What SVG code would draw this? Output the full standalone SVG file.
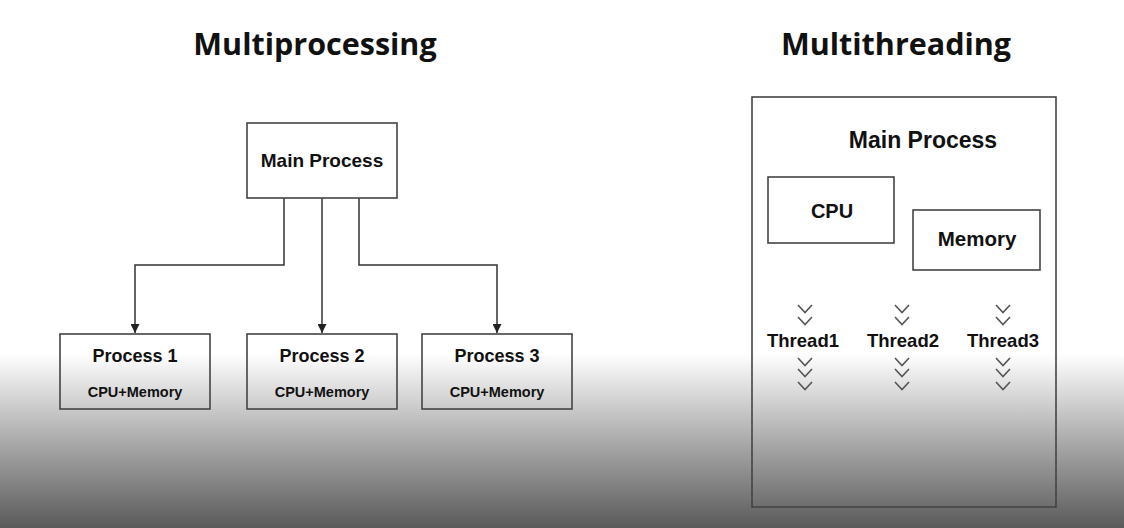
<svg xmlns="http://www.w3.org/2000/svg" width="1124" height="528" viewBox="0 0 1124 528">
<defs>
<linearGradient id="bg" x1="0" y1="0" x2="0" y2="528" gradientUnits="userSpaceOnUse">
<stop offset="0" stop-color="#ffffff"/>
<stop offset="0.67" stop-color="#ffffff"/>
<stop offset="0.83" stop-color="#adadad"/>
<stop offset="1" stop-color="#5a5a5a"/>
</linearGradient>
<marker id="arr" viewBox="0 0 10 10" refX="10" refY="5" markerWidth="9" markerHeight="9" markerUnits="userSpaceOnUse" orient="auto">
<path d="M0,0 L10,5 L0,10 z" fill="#222"/>
</marker>
<g id="chev"><polyline points="-7,-4 0,3.5 7,-4" fill="none" stroke="#555" stroke-width="1.6"/></g>
</defs>
<style>
.box{fill:none;stroke:#444;stroke-width:1.6}
.t{font-family:"Liberation Sans",Arial,sans-serif;font-weight:bold;fill:#111;text-anchor:middle}
.title{font-family:"Open Sans","Liberation Sans",sans-serif;font-weight:bold;fill:#111;text-anchor:middle;font-size:30.5px}
.conn{fill:none;stroke:#333;stroke-width:1.5}
</style>
<rect x="0" y="0" width="1124" height="528" fill="url(#bg)"/>
<text class="title" x="315" y="55">Multiprocessing</text>
<text class="title" x="896" y="55">Multithreading</text>
<g id="connectors">
<path class="conn" d="M284,198 V265 H135 V333" marker-end="url(#arr)"/>
<path class="conn" d="M322,198 V333" marker-end="url(#arr)"/>
<path class="conn" d="M359,198 V265 H497 V333" marker-end="url(#arr)"/>
</g>
<g id="main-process">
<rect class="box" x="247" y="123" width="150" height="75"/>
<text class="t" x="322" y="167" font-size="19">Main Process</text>
</g>
<g id="process1">
<rect class="box" x="60" y="334" width="150" height="75"/>
<text class="t" x="135" y="362" font-size="18">Process 1</text>
<text class="t" x="135" y="397" font-size="14.5">CPU+Memory</text>
</g>
<g id="process2">
<rect class="box" x="247" y="334" width="150" height="75"/>
<text class="t" x="322" y="362" font-size="18">Process 2</text>
<text class="t" x="322" y="397" font-size="14.5">CPU+Memory</text>
</g>
<g id="process3">
<rect class="box" x="422" y="334" width="150" height="75"/>
<text class="t" x="497" y="362" font-size="18">Process 3</text>
<text class="t" x="497" y="397" font-size="14.5">CPU+Memory</text>
</g>
<g id="mt-main">
<rect class="box" x="752" y="97" width="304" height="410"/>
<text class="t" x="923" y="148" font-size="23">Main Process</text>
</g>
<g id="cpu">
<rect class="box" x="768" y="177" width="126" height="66"/>
<text class="t" x="832" y="218" font-size="20">CPU</text>
</g>
<g id="memory">
<rect class="box" x="913" y="210" width="127" height="60"/>
<text class="t" x="977" y="246" font-size="20.5">Memory</text>
</g>
<g id="thread1">
<use href="#chev" x="805" y="309"/><use href="#chev" x="805" y="321"/>
<text class="t" x="803" y="347" font-size="18.5">Thread1</text>
<use href="#chev" x="805" y="362"/><use href="#chev" x="805" y="373"/><use href="#chev" x="805" y="386"/>
</g>
<g id="thread2">
<use href="#chev" x="902" y="309"/><use href="#chev" x="902" y="321"/>
<text class="t" x="903" y="347" font-size="18.5">Thread2</text>
<use href="#chev" x="902" y="362"/><use href="#chev" x="902" y="373"/><use href="#chev" x="902" y="386"/>
</g>
<g id="thread3">
<use href="#chev" x="1003" y="309"/><use href="#chev" x="1003" y="321"/>
<text class="t" x="1003" y="347" font-size="18.5">Thread3</text>
<use href="#chev" x="1003" y="362"/><use href="#chev" x="1003" y="373"/><use href="#chev" x="1003" y="386"/>
</g>
</svg>
